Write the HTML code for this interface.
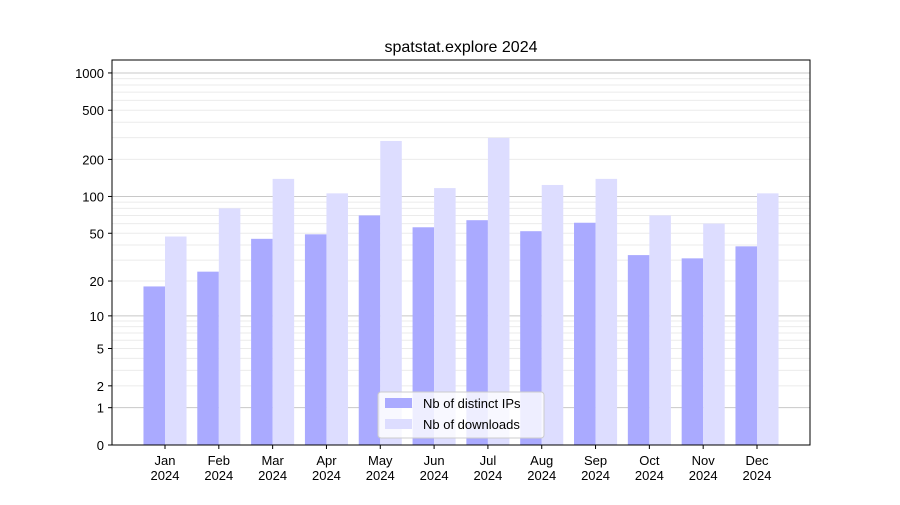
<!DOCTYPE html>
<html><head><meta charset="utf-8"><style>
body{margin:0;background:#fff;}
svg text{font-family:"Liberation Sans","DejaVu Sans",sans-serif;}
</style></head><body>
<svg id="chart" width="900" height="500" xmlns="http://www.w3.org/2000/svg">
<rect width="900" height="500" fill="#fff"/>
<text x="461" y="52" font-size="16" text-anchor="middle">spatstat.explore 2024</text>
<g id="grid"></g><g id="bars"></g><g id="axes"></g>
</svg>
<script>
const categories=["Jan","Feb","Mar","Apr","May","Jun","Jul","Aug","Sep","Oct","Nov","Dec"];
const ips=[18,24,45,49,70,56,64,52,61,33,31,39];
const downloads=[47,80,139,106,282,117,299,124,139,70,60,106];
const yTicks=[0,1,2,5,10,20,50,100,200,500,1000];
const NS="http://www.w3.org/2000/svg";
const L=112,R=810,T=60,B=445,PPU=124;
function y(v){return B-Math.log10(1+v)*PPU;}
const step=(757-165)/11;
function xc(i){return 165+i*step;}
const bw=step*0.4;
function mk(tag,attrs,parent){const e=document.createElementNS(NS,tag);for(const k in attrs)e.setAttribute(k,attrs[k]);document.getElementById(parent).appendChild(e);return e;}
// minor grid
for(let d=1;d<=1000;d*=10){for(let m=2;m<=9;m++){const v=d*m;if(y(v)<T)continue;
const g=mk("line",{x1:L,x2:R,y1:y(v),y2:y(v),stroke:"#ebebeb","stroke-width":1},"grid");

}}
for(const v of [1,10,100,1000]){const g=mk("line",{x1:L,x2:R,y1:y(v),y2:y(v),stroke:"#c8c8c8","stroke-width":1},"grid");

}
categories.forEach((c,i)=>{
const a=mk("rect",{x:xc(i)-bw,y:y(ips[i]),width:bw,height:B-y(ips[i]),fill:"#aaaaff"},"bars");


const b=mk("rect",{x:xc(i),y:y(downloads[i]),width:bw,height:B-y(downloads[i]),fill:"#ddddff"},"bars");


const tk=mk("line",{x1:xc(i),x2:xc(i),y1:B,y2:B+4,stroke:"#000"},"axes");


const t=mk("text",{x:xc(i),y:B+20,"font-size":13,"text-anchor":"middle"},"axes");


t.innerHTML='<tspan x="'+xc(i)+'">'+c+'</tspan><tspan x="'+xc(i)+'" dy="15">2024</tspan>';
});
yTicks.forEach(v=>{
const tk=mk("line",{x1:L-4,x2:L,y1:y(v),y2:y(v),stroke:"#000"},"axes");


const t=mk("text",{x:L-8,y:y(v)+5,"font-size":13,"text-anchor":"end"},"axes");


t.textContent=v;});
const fr=mk("rect",{x:L,y:T,width:R-L,height:B-T,fill:"none",stroke:"#000","stroke-width":1},"axes");


const lg=mk("g",{},"axes");


lg.innerHTML='<rect x="378" y="392" width="166" height="46" rx="3" fill="#fff" fill-opacity="0.8" stroke="#ccc"/>'+
'<rect x="385" y="398" width="27" height="10" fill="#aaaaff"/>'+
'<text x="423" y="408" font-size="13">Nb of distinct IPs</text>'+
'<rect x="385" y="419" width="27" height="10" fill="#ddddff"/>'+
'<text x="423" y="429" font-size="13">Nb of downloads</text>';
</script>
</body></html>
